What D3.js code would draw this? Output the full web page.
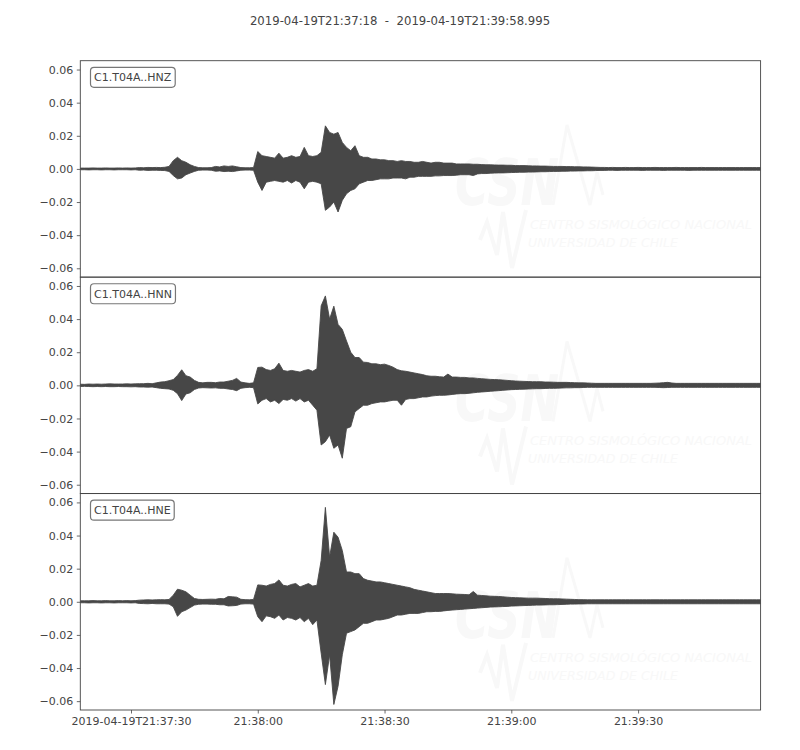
<!DOCTYPE html>
<html><head><meta charset="utf-8">
<script src="https://cdn.jsdelivr.net/npm/d3@7"></script>
<style>body{margin:0;background:#fff}svg{display:block}text{font-family:"DejaVu Sans",sans-serif}</style>
</head><body><div id="chart"></div>
<script>
// ---- data (amplitudes in units of 0.001, 1-second envelope bins from 21:37:18) ----
const channels = ["C1.T04A..HNZ", "C1.T04A..HNN", "C1.T04A..HNE"];
const titleText = "2019-04-19T21:37:18  -  2019-04-19T21:39:58.995";
const startTime = "2019-04-19T21:37:18.000Z";
const endTime = "2019-04-19T21:39:58.995Z";
const xTickTimes = ["2019-04-19T21:37:30Z","2019-04-19T21:38:00Z","2019-04-19T21:38:30Z","2019-04-19T21:39:00Z","2019-04-19T21:39:30Z"];
const xTickLabels = ["2019-04-19T21:37:30","21:38:00","21:38:30","21:39:00","21:39:30"];
const yTicks = [-0.06,-0.04,-0.02,0,0.02,0.04,0.06];

const hnzMax = [
0.5,0.5,0.5,0.6,0.5,0.5,0.6,0.5,0.5,0.6,
0.5,0.6,0.5,0.6,0.8,0.7,0.9,0.8,0.9,0.8,
1.0,1.5,5.0,7.0,5.0,4.0,2.5,1.5,0.8,0.7,
0.7,0.8,1.5,1.2,1.8,1.5,1.8,1.3,0.8,0.7,
0.7,0.8,10.5,8.0,7.5,7.0,6.5,9.5,6.5,7.0,
8.0,7.0,7.5,13.0,8.0,7.5,8.0,10.0,26.0,22.0,
21.0,22.0,16.0,13.0,11.0,14.0,8.0,7.0,7.0,6.0,
6.0,5.5,5.5,5.0,5.0,4.5,5.0,4.5,4.5,4.0,
4.0,4.5,4.0,3.5,4.0,4.0,3.5,3.5,3.5,3.0,
3.0,3.0,3.0,2.8,2.8,2.6,2.5,2.5,2.4,2.3,
2.3,2.2,2.2,2.0,2.0,2.0,1.9,1.8,1.8,1.7,
1.7,1.6,1.5,1.5,1.5,1.4,1.4,1.3,1.3,1.2,
1.2,1.1,1.0,0.9,0.9,0.8,0.9,0.8,0.8,0.9,
0.8,0.8,0.9,0.8,0.8,0.8,0.9,0.8,0.8,0.8,
0.8,0.9,0.8,0.8,0.8,0.8,0.8,0.9,0.8,0.8,
0.8,0.8,0.8,0.8,0.8,0.8,0.8,0.8,0.8,0.8,
0.8,0.8];
const hnzMin = [
-0.5,-0.5,-0.6,-0.5,-0.5,-0.6,-0.5,-0.5,-0.6,-0.5,
-0.5,-0.5,-0.6,-0.5,-0.8,-0.7,-0.9,-0.8,-0.8,-0.9,
-1.0,-1.5,-4.0,-6.0,-5.5,-3.5,-2.5,-1.5,-0.8,-0.7,
-0.7,-0.8,-1.4,-1.2,-1.6,-1.4,-1.6,-1.2,-0.8,-0.7,
-0.7,-0.8,-8.0,-13.0,-8.0,-7.5,-7.0,-7.5,-8.0,-7.0,
-8.5,-7.0,-8.0,-12.0,-8.0,-7.5,-8.0,-9.0,-25.0,-23.0,
-20.0,-26.0,-19.0,-15.0,-13.0,-12.0,-9.0,-8.0,-7.0,-7.0,
-6.5,-6.0,-6.0,-6.0,-5.5,-5.5,-5.5,-6.0,-5.0,-5.0,
-4.5,-4.5,-4.5,-4.5,-4.2,-4.2,-4.0,-4.0,-4.0,-3.8,
-3.5,-3.5,-3.5,-4.0,-3.0,-2.8,-2.8,-2.6,-2.5,-2.4,
-2.4,-2.3,-2.2,-2.1,-2.0,-2.0,-1.9,-1.9,-1.8,-1.7,
-1.7,-1.6,-1.5,-1.5,-1.4,-1.4,-1.3,-1.3,-1.2,-1.2,
-1.1,-1.1,-1.0,-0.9,-0.9,-0.8,-0.8,-0.9,-0.8,-0.8,
-0.8,-0.8,-0.8,-0.9,-0.8,-0.8,-0.8,-0.8,-0.9,-0.8,
-0.8,-0.8,-0.8,-0.8,-0.9,-0.8,-0.8,-0.8,-0.8,-0.8,
-0.8,-0.8,-0.8,-0.8,-0.8,-0.8,-0.8,-0.8,-0.8,-0.8,
-0.8,-0.8];
const hnnMax = [
0.7,0.6,0.8,0.7,0.8,0.7,0.8,0.9,0.8,0.8,
0.8,0.9,0.8,0.9,1.0,1.0,1.2,1.0,1.5,2.0,
2.2,2.8,3.5,6.0,9.4,5.8,5.0,3.0,1.8,1.5,
1.8,1.8,1.6,2.0,2.0,2.5,3.0,4.2,2.0,1.5,
1.2,1.5,10.8,11.0,9.5,9.0,10.0,13.4,9.0,8.5,
9.0,8.5,8.0,9.0,9.5,8.5,10.0,48.0,54.0,40.0,
47.8,36.8,33.8,26.8,20.0,16.8,16.8,14.0,13.8,13.0,
13.0,12.5,12.8,12.0,11.0,9.5,8.8,8.5,8.0,7.5,
7.0,6.5,5.8,5.5,5.5,5.2,5.0,6.8,5.0,5.0,
4.8,4.8,4.5,4.5,4.2,4.0,3.8,3.6,3.5,3.4,
3.2,3.0,2.8,2.6,2.5,2.4,2.3,2.2,2.2,2.2,
2.0,2.0,1.9,1.8,1.8,1.8,1.7,1.6,1.5,1.5,
1.4,1.3,1.2,1.2,1.2,1.2,1.2,1.2,1.2,1.2,
1.2,1.2,1.2,1.2,1.2,1.2,1.3,1.4,1.6,1.8,
1.4,1.2,1.2,1.2,1.2,1.2,1.2,1.2,1.2,1.2,
1.2,1.2,1.2,1.2,1.2,1.2,1.2,1.2,1.2,1.2,
1.2,1.2];
const hnnMin = [
-0.7,-0.6,-0.7,-0.8,-0.7,-0.8,-0.7,-0.8,-0.8,-0.7,
-0.8,-0.8,-0.9,-0.8,-1.0,-1.0,-1.1,-1.0,-1.4,-1.8,
-2.0,-2.2,-3.0,-5.0,-9.2,-5.2,-4.5,-2.5,-1.6,-1.4,
-1.5,-1.6,-1.5,-1.8,-1.8,-2.2,-2.5,-3.2,-1.8,-1.4,
-1.2,-1.4,-11.2,-9.0,-8.0,-10.0,-9.0,-11.0,-8.5,-9.0,
-8.0,-9.5,-8.0,-10.0,-9.0,-12.0,-15.0,-36.0,-34.0,-30.0,
-38.0,-36.0,-44.0,-26.0,-25.0,-16.0,-14.0,-12.0,-12.0,-11.0,
-10.5,-10.0,-10.0,-9.5,-9.0,-9.0,-12.0,-8.5,-8.0,-8.0,
-7.5,-7.0,-7.0,-6.5,-6.2,-6.0,-6.0,-5.8,-5.5,-5.2,
-5.0,-5.0,-4.8,-4.5,-4.2,-4.0,-3.8,-3.6,-3.4,-3.2,
-3.0,-2.8,-2.6,-2.5,-2.4,-2.3,-2.2,-2.1,-2.0,-2.0,
-1.9,-1.8,-1.8,-1.7,-1.6,-1.5,-1.5,-1.4,-1.4,-1.3,
-1.2,-1.2,-1.2,-1.2,-1.2,-1.2,-1.2,-1.2,-1.2,-1.2,
-1.2,-1.2,-1.2,-1.2,-1.2,-1.2,-1.2,-1.3,-1.4,-1.3,
-1.2,-1.2,-1.2,-1.2,-1.2,-1.2,-1.2,-1.2,-1.2,-1.2,
-1.2,-1.2,-1.2,-1.2,-1.2,-1.2,-1.2,-1.2,-1.2,-1.2,
-1.2,-1.2];
const hneMax = [
0.6,0.6,0.6,0.7,0.6,0.6,0.7,0.6,0.6,0.7,
0.6,0.7,0.6,0.7,1.0,1.1,1.2,1.1,1.2,1.3,
1.2,1.4,4.0,7.6,7.0,6.0,4.0,2.0,1.5,1.4,
1.5,1.6,1.5,2.0,1.8,3.2,3.0,2.8,1.5,1.3,
1.2,1.4,10.2,10.0,9.5,10.5,11.0,13.2,10.0,9.5,
10.5,11.0,9.0,10.0,11.0,9.5,10.0,25.0,57.0,27.0,
42.0,39.0,31.0,18.0,18.0,17.0,17.0,14.0,13.0,12.5,
12.0,12.0,11.5,11.0,10.5,10.0,9.5,9.0,8.5,7.5,
7.0,6.5,6.0,5.5,5.0,5.0,5.0,5.0,4.8,4.6,
4.5,4.4,4.2,6.2,4.0,3.8,3.6,3.4,3.3,3.2,
3.0,2.8,2.6,2.5,2.4,2.3,2.2,2.2,2.2,2.1,
2.0,1.9,1.8,1.8,1.7,1.6,1.5,1.4,1.3,1.3,
1.2,1.2,1.2,1.2,1.2,1.2,1.2,1.2,1.2,1.2,
1.2,1.2,1.2,1.2,1.2,1.2,1.2,1.2,1.2,1.2,
1.2,1.2,1.2,1.2,1.2,1.2,1.2,1.2,1.2,1.2,
1.2,1.2,1.2,1.2,1.2,1.2,1.2,1.2,1.2,1.2,
1.2,1.2];
const hneMin = [
-0.6,-0.6,-0.7,-0.6,-0.6,-0.7,-0.6,-0.6,-0.7,-0.6,
-0.6,-0.6,-0.7,-0.6,-1.0,-1.1,-1.2,-1.0,-1.2,-1.2,
-1.2,-1.4,-3.0,-8.8,-6.0,-5.0,-3.5,-2.0,-1.5,-1.4,
-1.4,-1.5,-1.5,-1.8,-1.8,-2.5,-2.4,-2.2,-1.4,-1.2,
-1.2,-1.4,-9.0,-12.0,-8.5,-9.0,-10.0,-8.0,-11.0,-9.5,
-10.0,-11.0,-9.5,-12.0,-10.0,-13.8,-11.0,-31.0,-50.0,-32.0,
-62.0,-51.0,-32.0,-19.0,-18.0,-17.0,-15.0,-13.0,-13.0,-12.0,
-11.0,-11.0,-10.5,-10.0,-9.0,-8.0,-8.0,-7.5,-7.0,-7.0,
-7.0,-6.5,-6.0,-6.0,-5.8,-5.8,-5.5,-5.2,-5.0,-4.8,
-4.6,-4.4,-4.2,-4.0,-3.8,-3.6,-3.4,-3.2,-3.1,-3.0,
-2.9,-2.8,-2.6,-2.5,-2.4,-2.3,-2.2,-2.1,-2.0,-2.0,
-1.9,-1.8,-1.8,-1.7,-1.6,-1.5,-1.4,-1.4,-1.3,-1.3,
-1.2,-1.2,-1.2,-1.2,-1.2,-1.2,-1.2,-1.2,-1.2,-1.2,
-1.2,-1.2,-1.2,-1.2,-1.2,-1.2,-1.2,-1.2,-1.2,-1.2,
-1.2,-1.2,-1.2,-1.2,-1.2,-1.2,-1.2,-1.2,-1.2,-1.2,
-1.2,-1.2,-1.2,-1.2,-1.2,-1.2,-1.2,-1.2,-1.2,-1.2,
-1.2,-1.2];

const seriesMax = [hnzMax, hnnMax, hneMax];
const seriesMin = [hnzMin, hnnMin, hneMin];

// ---- layout ----
const W = 800, H = 750;
const plotLeft = 80.3, plotRight = 760.6, plotTop = 60.7, plotBottom = 710;
const panelH = (plotBottom - plotTop) / 3;
const ink = "#444444", traceColor = "#474747", wmColor = "#f8f8f8";

const svg = d3.select("#chart").append("svg").attr("width", W).attr("height", H);

const x = d3.scaleUtc().domain([new Date(startTime), new Date(endTime)]).range([plotLeft, plotRight]);
const yLim = 0.06534;

svg.append("text").attr("x", 400).attr("y", 25).attr("text-anchor", "middle")
  .attr("font-size", "11.7px").attr("fill", ink)
  .style("white-space","pre").text(titleText);

const t0 = new Date(startTime).getTime();

channels.forEach((name, i) => {
  const py = plotTop + i * panelH;
  const y = d3.scaleLinear().domain([-yLim, yLim]).range([py + panelH, py]);
  const g = svg.append("g");

  // faint watermark
  const wm = g.append("g").attr("transform", `translate(0,${py - plotTop})`);
  wm.append("text").attr("x", 455).attr("y", 205).attr("font-size", "64px").attr("font-weight", "bold")
    .attr("font-style", "italic").attr("fill", wmColor).attr("font-family", "Liberation Sans, sans-serif")
    .attr("textLength", 104).attr("lengthAdjust", "spacingAndGlyphs").text("CSN");
  wm.append("path").attr("d", "M553,205 L567,125 L590,205 L597,172 L603,195")
    .attr("fill", "none").attr("stroke", wmColor).attr("stroke-width", 3);
  wm.append("path").attr("d", "M480,240 L487,222 L497,255 L503,212 L512,268 L526,210")
    .attr("fill", "none").attr("stroke", wmColor).attr("stroke-width", 4);
  wm.append("text").attr("x", 530).attr("y", 229).attr("font-size", "13px").attr("font-style", "italic")
    .attr("fill", wmColor).attr("font-family", "Liberation Sans Narrow, Liberation Sans, sans-serif")
    .attr("textLength", 222).attr("lengthAdjust", "spacingAndGlyphs").text("CENTRO SISMOLÓGICO NACIONAL");
  wm.append("text").attr("x", 528).attr("y", 247).attr("font-size", "13px").attr("font-style", "italic")
    .attr("fill", wmColor).attr("font-family", "Liberation Sans Narrow, Liberation Sans, sans-serif")
    .attr("textLength", 150).attr("lengthAdjust", "spacingAndGlyphs").text("UNIVERSIDAD DE CHILE");

  // waveform envelope
  const maxs = seriesMax[i], mins = seriesMin[i];
  const pts = maxs.map((v, k) => ({ t: new Date(t0 + k * 1000), hi: v / 1000, lo: mins[k] / 1000 }));
  const area = d3.area().x(d => x(d.t)).y0(d => y(d.lo)).y1(d => y(d.hi));
  g.append("defs").append("clipPath").attr("id", "clip" + i)
    .append("rect").attr("x", plotLeft).attr("y", py).attr("width", plotRight - plotLeft).attr("height", panelH);
  g.append("path").datum(pts).attr("d", area).attr("fill", traceColor)
    .attr("stroke", traceColor).attr("stroke-width", 0.9).attr("stroke-linejoin", "round")
    .attr("clip-path", `url(#clip${i})`);

  // y axis
  const yAxis = d3.axisLeft(y).tickValues(yTicks).tickSize(3.5).tickPadding(3.5)
    .tickFormat(d => d3.format(".2f")(d).replace("-", "\u2212"));
  const ya = g.append("g").attr("transform", `translate(${plotLeft},0)`).call(yAxis);
  ya.select(".domain").remove();
  ya.selectAll("line").attr("stroke", ink).attr("stroke-width", 0.8);
  ya.selectAll("text").attr("fill", ink).attr("font-size", "11px").attr("font-family", "DejaVu Sans, sans-serif");

  // frame
  g.append("rect").attr("x", plotLeft).attr("y", py).attr("width", plotRight - plotLeft).attr("height", panelH)
    .attr("fill", "none").attr("stroke", ink).attr("stroke-width", 0.9);

  // channel label box
  const lbl = g.append("g");
  const tx = lbl.append("text").attr("x", 94).attr("y", py + 20.5).attr("font-size", "11px")
    .attr("fill", ink).attr("font-family", "DejaVu Sans, sans-serif").text(name);
  const bb = tx.node().getBBox();
  lbl.insert("rect", "text").attr("x", bb.x - 3.5).attr("y", py + 6.6).attr("width", bb.width + 7)
    .attr("height", 20).attr("rx", 3.5).attr("fill", "#fff").attr("stroke", "#777").attr("stroke-width", 1.2);

  if (i === 2) {
    const xAxis = d3.axisBottom(x).tickValues(xTickTimes.map(s => new Date(s)))
      .tickFormat((d, k) => xTickLabels[k]).tickSize(3.5).tickPadding(3.5);
    const xa = g.append("g").attr("transform", `translate(0,${plotBottom})`).call(xAxis);
    xa.select(".domain").remove();
    xa.selectAll("line").attr("stroke", ink).attr("stroke-width", 0.8);
    xa.selectAll("text").attr("fill", ink).attr("font-size", "11px").attr("font-family", "DejaVu Sans, sans-serif");
  }
});
</script>
</body></html>
